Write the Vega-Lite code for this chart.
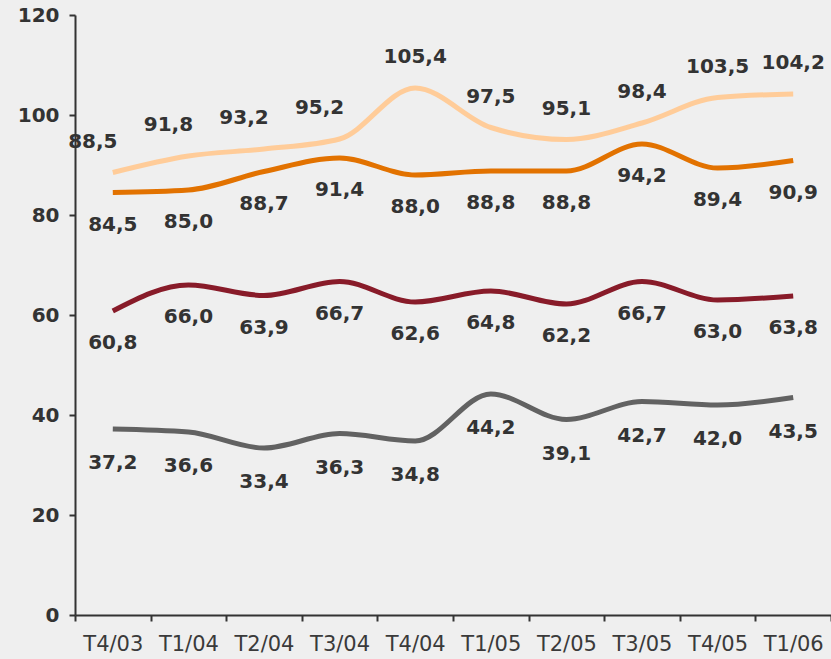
{
  "$schema": "https://vega.github.io/schema/vega-lite/v6.json",
  "width": 756,
  "height": 600,
  "autosize": {"type": "none"},
  "padding": {"left": 75, "top": 15, "right": 0, "bottom": 44},
  "background": "#efefef",
  "config": {
    "view": {"stroke": null},
    "locale": {"number": {"decimal": ",", "thousands": ".", "grouping": [3], "currency": ["", " €"]}},
    "font": "DejaVu Sans"
  },
  "data": {
    "values": [
      {"q": "T4/03", "s": "A", "v": 88.5}, {"q": "T1/04", "s": "A", "v": 91.8}, {"q": "T2/04", "s": "A", "v": 93.2}, {"q": "T3/04", "s": "A", "v": 95.2}, {"q": "T4/04", "s": "A", "v": 105.4}, {"q": "T1/05", "s": "A", "v": 97.5}, {"q": "T2/05", "s": "A", "v": 95.1}, {"q": "T3/05", "s": "A", "v": 98.4}, {"q": "T4/05", "s": "A", "v": 103.5}, {"q": "T1/06", "s": "A", "v": 104.2},
      {"q": "T4/03", "s": "B", "v": 84.5}, {"q": "T1/04", "s": "B", "v": 85.0}, {"q": "T2/04", "s": "B", "v": 88.7}, {"q": "T3/04", "s": "B", "v": 91.4}, {"q": "T4/04", "s": "B", "v": 88.0}, {"q": "T1/05", "s": "B", "v": 88.8}, {"q": "T2/05", "s": "B", "v": 88.8}, {"q": "T3/05", "s": "B", "v": 94.2}, {"q": "T4/05", "s": "B", "v": 89.4}, {"q": "T1/06", "s": "B", "v": 90.9},
      {"q": "T4/03", "s": "C", "v": 60.8}, {"q": "T1/04", "s": "C", "v": 66.0}, {"q": "T2/04", "s": "C", "v": 63.9}, {"q": "T3/04", "s": "C", "v": 66.7}, {"q": "T4/04", "s": "C", "v": 62.6}, {"q": "T1/05", "s": "C", "v": 64.8}, {"q": "T2/05", "s": "C", "v": 62.2}, {"q": "T3/05", "s": "C", "v": 66.7}, {"q": "T4/05", "s": "C", "v": 63.0}, {"q": "T1/06", "s": "C", "v": 63.8},
      {"q": "T4/03", "s": "D", "v": 37.2}, {"q": "T1/04", "s": "D", "v": 36.6}, {"q": "T2/04", "s": "D", "v": 33.4}, {"q": "T3/04", "s": "D", "v": 36.3}, {"q": "T4/04", "s": "D", "v": 34.8}, {"q": "T1/05", "s": "D", "v": 44.2}, {"q": "T2/05", "s": "D", "v": 39.1}, {"q": "T3/05", "s": "D", "v": 42.7}, {"q": "T4/05", "s": "D", "v": 42.0}, {"q": "T1/06", "s": "D", "v": 43.5}
    ]
  },
  "encoding": {
    "x": {
      "field": "q", "type": "ordinal", "sort": null,
      "scale": {"type": "band", "paddingInner": 0, "paddingOuter": 0},
      "axis": {
        "title": null, "labelAngle": 0, "tickBand": "extent",
        "domainColor": "#333333", "domainWidth": 2, "tickColor": "#333333", "tickWidth": 2, "tickSize": 6,
        "labelFontSize": 21, "labelColor": "#3a3a3a", "labelPadding": 12, "labelFont": "DejaVu Sans"
      }
    },
    "y": {
      "field": "v", "type": "quantitative",
      "scale": {"domain": [0, 120], "nice": false},
      "axis": {
        "title": null, "values": [0, 20, 40, 60, 80, 100, 120], "grid": false,
        "domainColor": "#333333", "domainWidth": 2, "tickColor": "#333333", "tickWidth": 2, "tickSize": 6,
        "labelFontSize": 20, "labelFontWeight": "bold", "labelColor": "#333333", "labelPadding": 10, "labelFont": "DejaVu Sans"
      }
    }
  },
  "layer": [
    {
      "mark": {"type": "line", "interpolate": "monotone", "strokeWidth": 5},
      "encoding": {
        "color": {
          "field": "s", "type": "nominal", "legend": null,
          "scale": {"domain": ["A", "B", "C", "D"], "range": ["#ffcc99", "#e27200", "#881b29", "#626262"]}
        }
      }
    },
    {
      "transform": [{"filter": "datum.s == 'A' && indexof(['T4/03','T1/04','T2/04','T3/04'], datum.q) >= 0"}],
      "mark": {"type": "text", "dy": -31, "dx": -20, "fontSize": 20, "fontWeight": "bold", "color": "#333333", "font": "DejaVu Sans"},
      "encoding": {"text": {"field": "v", "type": "quantitative", "format": ".1f"}}
    },
    {
      "transform": [{"filter": "datum.s == 'A' && indexof(['T4/03','T1/04','T2/04','T3/04'], datum.q) < 0"}],
      "mark": {"type": "text", "dy": -31, "fontSize": 20, "fontWeight": "bold", "color": "#333333", "font": "DejaVu Sans"},
      "encoding": {"text": {"field": "v", "type": "quantitative", "format": ".1f"}}
    },
    {
      "transform": [{"filter": "datum.s == 'B' || datum.s == 'C'"}],
      "mark": {"type": "text", "dy": 32, "fontSize": 20, "fontWeight": "bold", "color": "#333333", "font": "DejaVu Sans"},
      "encoding": {"text": {"field": "v", "type": "quantitative", "format": ".1f"}}
    },
    {
      "transform": [{"filter": "datum.s == 'D'"}],
      "mark": {"type": "text", "dy": 34, "fontSize": 20, "fontWeight": "bold", "color": "#333333", "font": "DejaVu Sans"},
      "encoding": {"text": {"field": "v", "type": "quantitative", "format": ".1f"}}
    }
  ]
}
